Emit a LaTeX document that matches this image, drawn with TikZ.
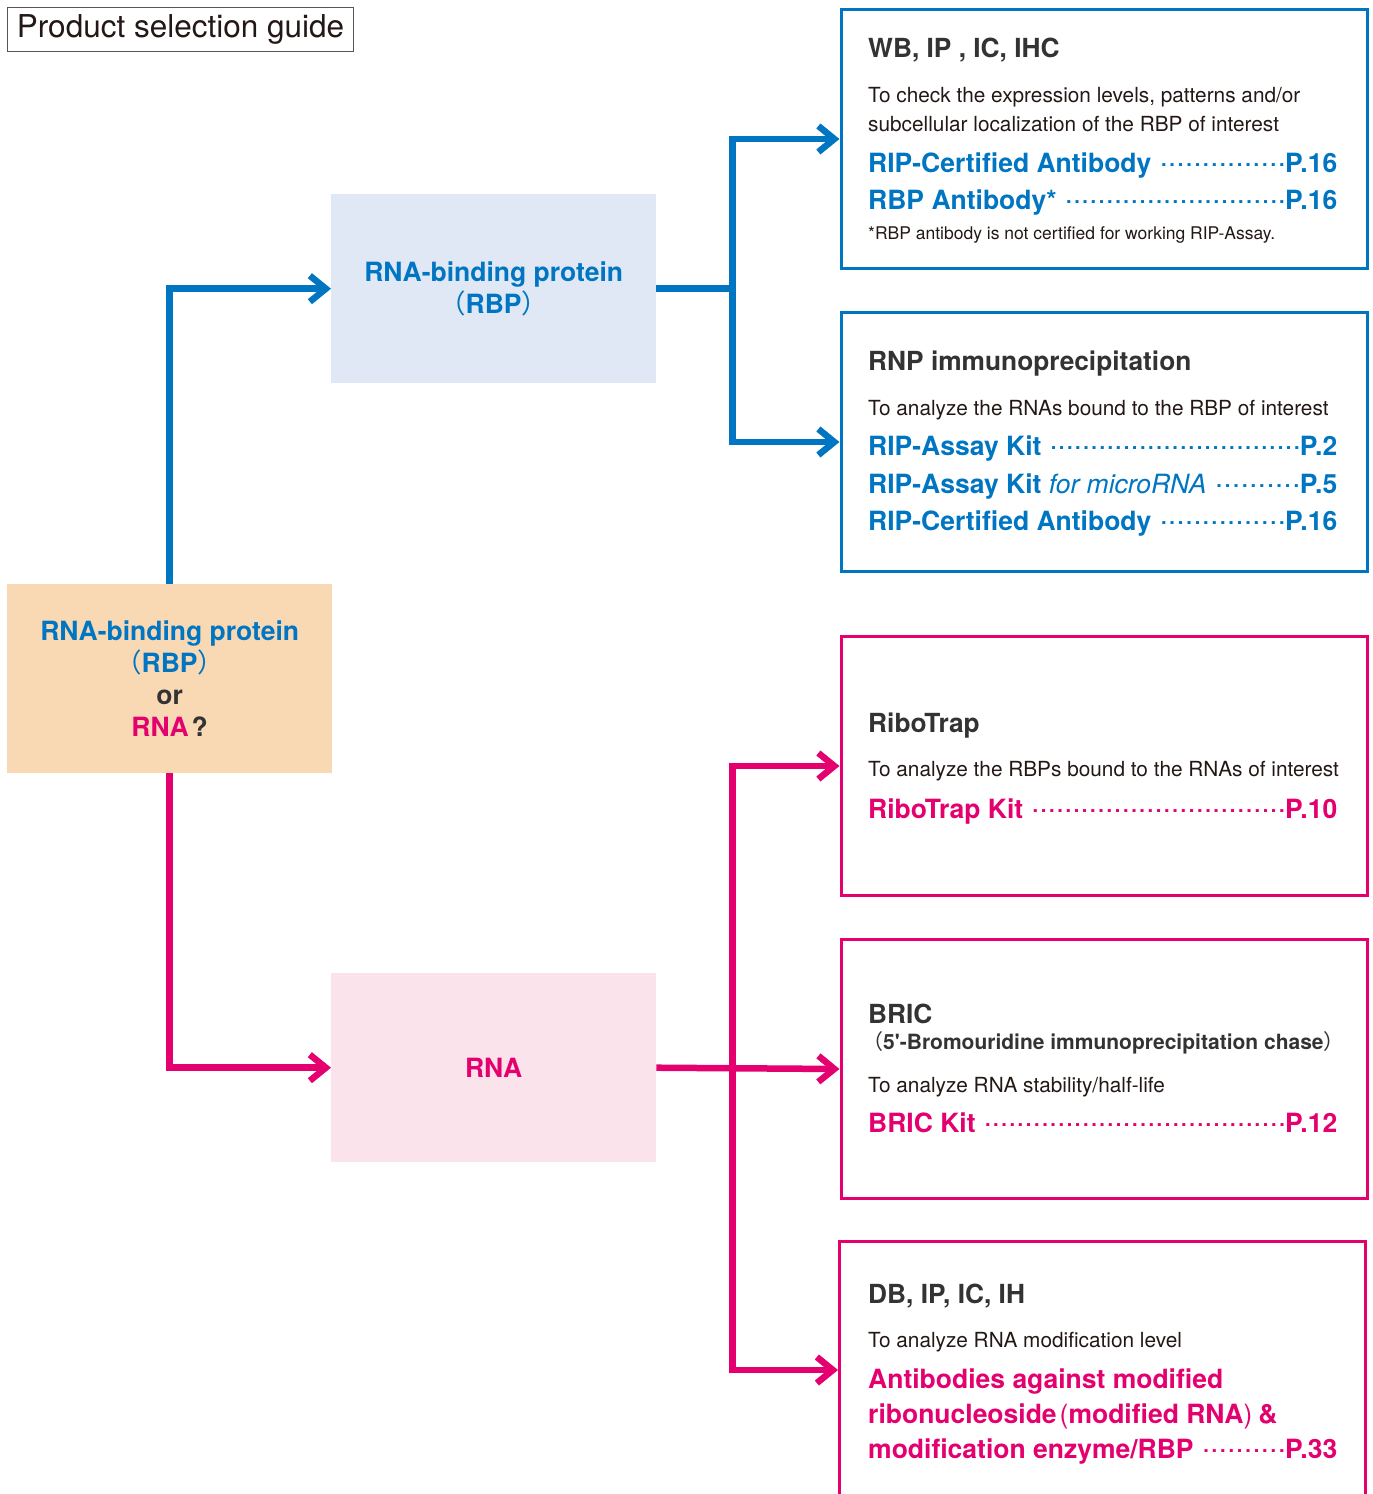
\documentclass[tikz,border=0pt]{standalone}
\usepackage{fontspec}
\setmainfont{TeX Gyre Heros}
\newfontfamily\cjkf{Noto Sans CJK JP}
\usetikzlibrary{arrows.meta}
\definecolor{mblue}{HTML}{0075C2}
\definecolor{mpink}{HTML}{E4006E}
\definecolor{peach}{HTML}{F9D8B4}
\definecolor{lblue}{HTML}{DFE8F4}
\definecolor{lpink}{HTML}{FAE3EA}
\definecolor{tdark}{HTML}{231815}
\definecolor{thead}{HTML}{333333}
\definecolor{tgray}{HTML}{555555}
\newcommand{\zlp}{{\cjkf\mdseries （}}
\newcommand{\zrp}{{\cjkf\mdseries ）}}
\newcommand{\dotch}{\raisebox{5.5pt}{\fontsize{20}{20}\selectfont\bfseries .}}
\newcommand{\leadline}[2]{\makebox[469pt][l]{#1\hspace{8pt}\xleaders\hbox to 8pt{\hss\dotch\hss}\hfill\kern-1pt#2}}
\tikzset{
  hd/.style={anchor=base west, inner sep=0pt, text=thead, font=\bfseries\fontsize{26.3}{30}\selectfont},
  bd/.style={anchor=base west, inner sep=0pt, text=tdark, font=\fontsize{20.8}{24}\selectfont},
  fn/.style={anchor=base west, inner sep=0pt, text=tdark, font=\fontsize{17.5}{20}\selectfont},
  lkb/.style={anchor=base west, inner sep=0pt, text=mblue, font=\bfseries\fontsize{26.5}{30}\selectfont},
  lkp/.style={anchor=base west, inner sep=0pt, text=mpink, font=\bfseries\fontsize{26.5}{30}\selectfont},
  bbox/.style={draw=mblue, line width=3pt, anchor=north west, minimum width=526pt, minimum height=259pt, inner sep=0pt},
  pbox/.style={draw=mpink, line width=3pt, anchor=north west, minimum width=526pt, minimum height=259pt, inner sep=0pt},
  midbox/.style={anchor=north west, minimum width=325pt, minimum height=189pt, inner sep=0pt, align=center, font=\bfseries\fontsize{26.5}{32}\selectfont},
  bline/.style={draw=mblue, line width=6.5pt},
  pline/.style={draw=mpink, line width=6.5pt},
  arr/.style={-{Straight Barb[length=16pt,width=26pt]}}
}
\begin{document}
\begin{tikzpicture}[x=1pt,y=-1pt]
\useasboundingbox (0,0) rectangle (1373,1494);
% title
\node[draw=tgray, line width=1pt, anchor=north west, minimum width=346pt, minimum height=44pt, inner sep=0pt, text=tdark, font=\fontsize{31.5}{32}\selectfont] (title) at (7,7) {\raisebox{-2pt}{Product selection guide}};
% main boxes
\node[midbox, fill=peach] (q) at (7,584) {{\color{mblue}RNA-binding protein}\\{\color{mblue}\zlp RBP\zrp}\\{\color{thead}or}\\{\color{mpink}RNA}\kern3pt{\color{thead}?}};
\node[midbox, fill=lblue, text=mblue] (rbp) at (331,194) {RNA-binding protein\\\zlp RBP\zrp};
\node[midbox, fill=lpink, text=mpink] (rna) at (331,973) {RNA};
% right boxes
\node[bbox] (b1) at (839.5,8) {};
\node[bbox] (b2) at (839.5,311) {};
\node[pbox] (b3) at (839.5,635) {};
\node[pbox] (b4) at (839.5,938) {};
\draw[draw=mpink, line width=3pt] (839.5,1494) -- (839.5,1241) -- (1365.5,1241) -- (1365.5,1494);
\coordinate (b5w) at (838,1370);
% connectors
\path (rbp.east) ++(76,0) coordinate (jb);
\path (rna.east) ++(76,0) coordinate (jr);
\draw[bline,arr] (q.north) |- (rbp.west);
\draw[bline] (rbp.east) -- (jb);
\draw[bline,arr] (jb) |- (b1.west);
\draw[bline,arr] (jb) |- (b2.west);
\draw[pline,arr] (q.south) |- (rna.west);
\draw[pline,arr] (rna.east) -- (b4.west);
\draw[pline,arr] (jr) |- (b3.west);
\draw[pline,arr] (jr) |- (b5w);
% box 1
\node[hd] (h1) at (868,57) {WB, IP , IC, IHC};
\node[bd] (d1a) at (868,102) {To check the expression levels, patterns and/or};
\node[bd] (d1b) at (868,131) {subcellular localization of the RBP of interest};
\node[lkb] (l1a) at (868,172) {\leadline{RIP-Certified Antibody}{P.16}};
\node[lkb] (l1b) at (868,209) {\leadline{RBP Antibody*}{P.16}};
\node[fn] (f1) at (868,239) {*RBP antibody is not certified for working RIP-Assay.};
% box 2
\node[hd] (h2) at (868,370) {RNP immunoprecipitation};
\node[bd] (d2) at (868,415) {To analyze the RNAs bound to the RBP of interest};
\node[lkb] (l2a) at (868,455) {\leadline{RIP-Assay Kit}{P.2}};
\node[lkb] (l2b) at (868,493) {\leadline{RIP-Assay Kit {\mdseries\itshape for microRNA}}{P.5}};
\node[lkb] (l2c) at (868,530) {\leadline{RIP-Certified Antibody}{P.16}};
% box 3
\node[hd] (h3) at (868,732) {RiboTrap};
\node[bd] (d3) at (868,776) {To analyze the RBPs bound to the RNAs of interest};
\node[lkp] (l3) at (868,818) {\leadline{RiboTrap Kit}{P.10}};
% box 4
\node[hd] (h4) at (868,1023) {BRIC};
\node[anchor=base west, inner sep=0pt, text=thead, font=\bfseries\fontsize{21}{24}\selectfont] (s4) at (862,1049) {\zlp 5\textquotesingle-Bromouridine immunoprecipitation chase\zrp};
\node[bd] (d4) at (868,1092) {To analyze RNA stability/half-life};
\node[lkp] (l4) at (868,1132) {\leadline{BRIC Kit}{P.12}};
% box 5
\node[hd] (h5) at (868,1303) {DB, IP, IC, IH};
\node[bd] (d5) at (868,1347) {To analyze RNA modification level};
\node[lkp] (l5a) at (868,1388) {Antibodies against modified};
\node[lkp] (l5b) at (868,1423) {ribonucleoside\kern3pt{\mdseries(}modified RNA{\mdseries)}\kern6pt\&};
\node[lkp] (l5c) at (868,1458) {\leadline{modification enzyme/RBP}{P.33}};
\end{tikzpicture}
\end{document}
